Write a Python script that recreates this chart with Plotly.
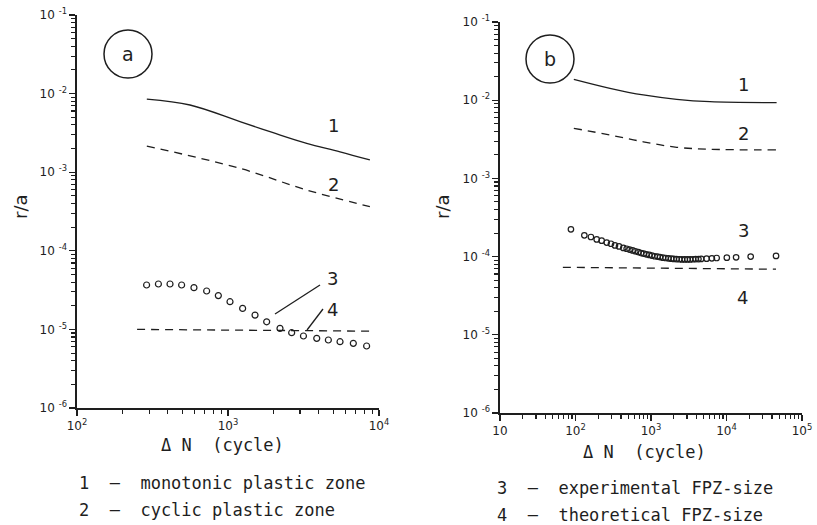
import plotly.graph_objects as go

W, H = 817, 525

# ---------------- data (panel a) ----------------
a_mono_N = [290, 560, 1200, 1990, 3320, 5520, 8700]
a_mono_r = [0.0085, 0.00716, 0.0044, 0.00318, 0.00233, 0.00182, 0.00143]

a_cyc_N = [290, 1200, 3320, 8700]
a_cyc_r = [0.00215, 0.00112, 0.000594, 0.000364]

a_exp_N = [289, 346, 413, 493, 595, 722, 863, 1031, 1250, 1510, 1803, 2210,
           2640, 3160, 3870, 4620, 5520, 6760, 8280]
a_exp_r = [3.67e-5, 3.78e-5, 3.78e-5, 3.67e-5, 3.40e-5, 3.08e-5, 2.69e-5,
           2.25e-5, 1.85e-5, 1.52e-5, 1.25e-5, 1.03e-5, 9.08e-6, 8.24e-6,
           7.69e-6, 7.33e-6, 6.97e-6, 6.65e-6, 6.15e-6]

a_theo_N = [250, 8700]
a_theo_r = [1.0e-5, 9.5e-6]

# ---------------- data (panel b) ----------------
b_mono_N = [95, 286, 791, 2190, 6040, 46100]
b_mono_r = [0.0185, 0.0142, 0.01166, 0.01026, 0.00957, 0.00929]

b_cyc_N = [95, 286, 791, 2190, 6040, 46100]
b_cyc_r = [0.00437, 0.00359, 0.00294, 0.00250, 0.00236, 0.00231]

b_exp_N = [87, 131, 160, 191, 222, 259, 295, 333, 377, 430, 476,
           520, 570, 620, 680, 740, 800, 870, 950, 1030, 1120, 1220, 1320,
           1440, 1560, 1700, 1850, 2000, 2180, 2370, 2570, 2800, 3040, 3300,
           3600, 3900, 4250, 4620, 5450, 6400, 7410, 10100, 13400, 20900, 45300]
b_exp_r = [2.23e-4, 1.87e-4, 1.78e-4, 1.66e-4, 1.60e-4, 1.51e-4, 1.46e-4,
           1.39e-4, 1.35e-4, 1.29e-4, 1.26e-4,
           1.23e-4, 1.20e-4, 1.17e-4, 1.14e-4, 1.11e-4, 1.09e-4, 1.07e-4,
           1.05e-4, 1.03e-4, 1.01e-4, 1.00e-4, 9.85e-5, 9.7e-5, 9.6e-5, 9.5e-5,
           9.4e-5, 9.35e-5, 9.3e-5, 9.25e-5, 9.2e-5, 9.2e-5, 9.2e-5, 9.2e-5,
           9.25e-5, 9.3e-5, 9.3e-5, 9.35e-5, 9.4e-5, 9.5e-5, 9.6e-5, 9.7e-5,
           9.8e-5, 1.0e-4, 1.02e-4]

b_theo_N = [68, 45300]
b_theo_r = [7.3e-5, 6.9e-5]

# tick labels
a_xtick_vals = [1e2, 1e3, 1e4]
a_xtick_text = ["10<sup>2</sup>", "10<sup>3</sup>", "10<sup>4</sup>"]
b_xtick_vals = [1e1, 1e2, 1e3, 1e4, 1e5]
b_xtick_text = ["10", "10<sup>2</sup>", "10<sup>3</sup>", "10<sup>4</sup>", "10<sup>5</sup>"]
ytick_vals = [1e-6, 1e-5, 1e-4, 1e-3, 1e-2, 1e-1]
ytick_text = ["10 <sup>-6</sup>", "10 <sup>-5</sup>", "10 <sup>-4</sup>",
              "10 <sup>-3</sup>", "10 <sup>-2</sup>", "10 <sup>-1</sup>"]

legend_a = ["1  –  monotonic plastic zone", "2  –  cyclic plastic zone"]
legend_b = ["3  –  experimental FPZ-size", "4  –  theoretical FPZ-size"]

FONT = "DejaVu Sans"
WIDE = "DejaVu Sans Mono"
INK = "#1e1e1e"


def px(x):
    return x / W


def py(y):
    return 1 - y / H


def minor_vals(e0, e1):
    return [k * 10 ** e for e in range(e0, e1) for k in range(2, 10)]


fig = go.Figure()

line_solid = dict(color=INK, width=1.3)
line_dash = dict(color=INK, width=1.3, dash="8px,6px")
mk = dict(symbol="circle-open", size=6, color=INK, line=dict(width=1.2, color=INK))
mk_b = dict(symbol="circle-open", size=5.5, color=INK, line=dict(width=1.2, color=INK))

fig.add_trace(go.Scatter(x=a_mono_N, y=a_mono_r, mode="lines", line=dict(line_solid, shape="spline"), xaxis="x", yaxis="y"))
fig.add_trace(go.Scatter(x=a_cyc_N, y=a_cyc_r, mode="lines", line=dict(line_dash, shape="spline"), xaxis="x", yaxis="y"))
fig.add_trace(go.Scatter(x=a_exp_N, y=a_exp_r, mode="markers", marker=mk, xaxis="x", yaxis="y"))
fig.add_trace(go.Scatter(x=a_theo_N, y=a_theo_r, mode="lines", line=line_dash, xaxis="x", yaxis="y"))

fig.add_trace(go.Scatter(x=b_mono_N, y=b_mono_r, mode="lines", line=dict(line_solid, shape="spline"), xaxis="x2", yaxis="y2"))
fig.add_trace(go.Scatter(x=b_cyc_N, y=b_cyc_r, mode="lines", line=dict(line_dash, shape="spline"), xaxis="x2", yaxis="y2"))
fig.add_trace(go.Scatter(x=b_exp_N, y=b_exp_r, mode="markers", marker=mk_b, xaxis="x2", yaxis="y2"))
fig.add_trace(go.Scatter(x=b_theo_N, y=b_theo_r, mode="lines", line=line_dash, xaxis="x2", yaxis="y2"))

axis_common = dict(
    type="log", showgrid=False, zeroline=False, showline=True, linecolor=INK,
    linewidth=1.6, ticks="outside", ticklen=6, tickwidth=1.3, tickcolor=INK,
    tickfont=dict(family=FONT, size=12, color=INK), mirror=False, automargin=False,
)

fig.update_layout(
    width=W, height=H, showlegend=False,
    paper_bgcolor="white", plot_bgcolor="white",
    margin=dict(l=0, r=0, t=0, b=0, autoexpand=False),
    xaxis=dict(axis_common, domain=[px(77), px(379)], range=[2, 4], anchor="y",
               tickvals=a_xtick_vals, ticktext=a_xtick_text,
               minor=dict(tickvals=minor_vals(2, 4), ticks="outside", ticklen=4, tickwidth=1.1, tickcolor=INK)),
    yaxis=dict(axis_common, domain=[py(408), py(15)], range=[-6, -1], anchor="x",
               tickvals=ytick_vals, ticktext=ytick_text,
               minor=dict(tickvals=minor_vals(-6, -1), ticks="outside", ticklen=4, tickwidth=1.1, tickcolor=INK)),
    xaxis2=dict(axis_common, domain=[px(500), px(802)], range=[1, 5], anchor="y2",
                tickvals=b_xtick_vals, ticktext=b_xtick_text,
                minor=dict(tickvals=minor_vals(1, 5), ticks="outside", ticklen=4, tickwidth=1.1, tickcolor=INK)),
    yaxis2=dict(axis_common, domain=[py(413), py(22)], range=[-6, -1], anchor="x2",
                tickvals=ytick_vals, ticktext=ytick_text,
                minor=dict(tickvals=minor_vals(-6, -1), ticks="outside", ticklen=4, tickwidth=1.1, tickcolor=INK)),
)

anns = []


def txt(x, y, s, size=17, xanchor="center", angle=0, family=FONT):
    anns.append(dict(x=px(x), y=py(y), xref="paper", yref="paper", text=s,
                     showarrow=False, xanchor=xanchor, yanchor="middle", textangle=angle,
                     font=dict(family=family, size=size, color=INK)))


# curve labels
txt(333, 125, "1", size=18)
txt(333, 184, "2", size=18)
txt(332, 278, "3", size=18)
txt(332, 309, "4", size=18)
txt(743, 85, "1", size=18)
txt(743, 133, "2", size=18)
txt(743, 230, "3", size=18)
txt(742, 297, "4", size=18)
# panel letters
txt(128, 54, "a", size=19)
txt(550, 59, "b", size=19)
# axis titles
txt(222, 445, "Δ N  (cycle)", size=17, family=WIDE)
txt(644, 452, "Δ N  (cycle)", size=17, family=WIDE)
txt(20, 207, "r/a", size=18, angle=-90)
txt(442, 207, "r/a", size=18, angle=-90)
# legends
txt(77, 483, legend_a[0], size=17, xanchor="left", family=WIDE)
txt(77, 510, legend_a[1], size=17, xanchor="left", family=WIDE)
txt(495, 488, legend_b[0], size=17, xanchor="left", family=WIDE)
txt(495, 515, legend_b[1], size=17, xanchor="left", family=WIDE)

fig.update_layout(annotations=anns)

shapes = []
for cx, cy in [(128, 54), (550, 59)]:
    r = 24
    shapes.append(dict(type="circle", xref="paper", yref="paper",
                       x0=px(cx - r), x1=px(cx + r), y0=py(cy + r), y1=py(cy - r),
                       line=dict(color=INK, width=1.5)))
# leader lines for labels 3 and 4 (panel a)
for (x0, y0, x1, y1) in [(275, 314, 320, 285), (307, 330, 323, 309)]:
    shapes.append(dict(type="line", xref="paper", yref="paper",
                       x0=px(x0), y0=py(y0), x1=px(x1), y1=py(y1),
                       line=dict(color=INK, width=1.3)))
fig.update_layout(shapes=shapes)

fig.write_html(
    "out.html",
    config={"displayModeBar": False, "staticPlot": True},
    post_script="document.body.style.margin='0';document.body.style.overflow='hidden';",
)
